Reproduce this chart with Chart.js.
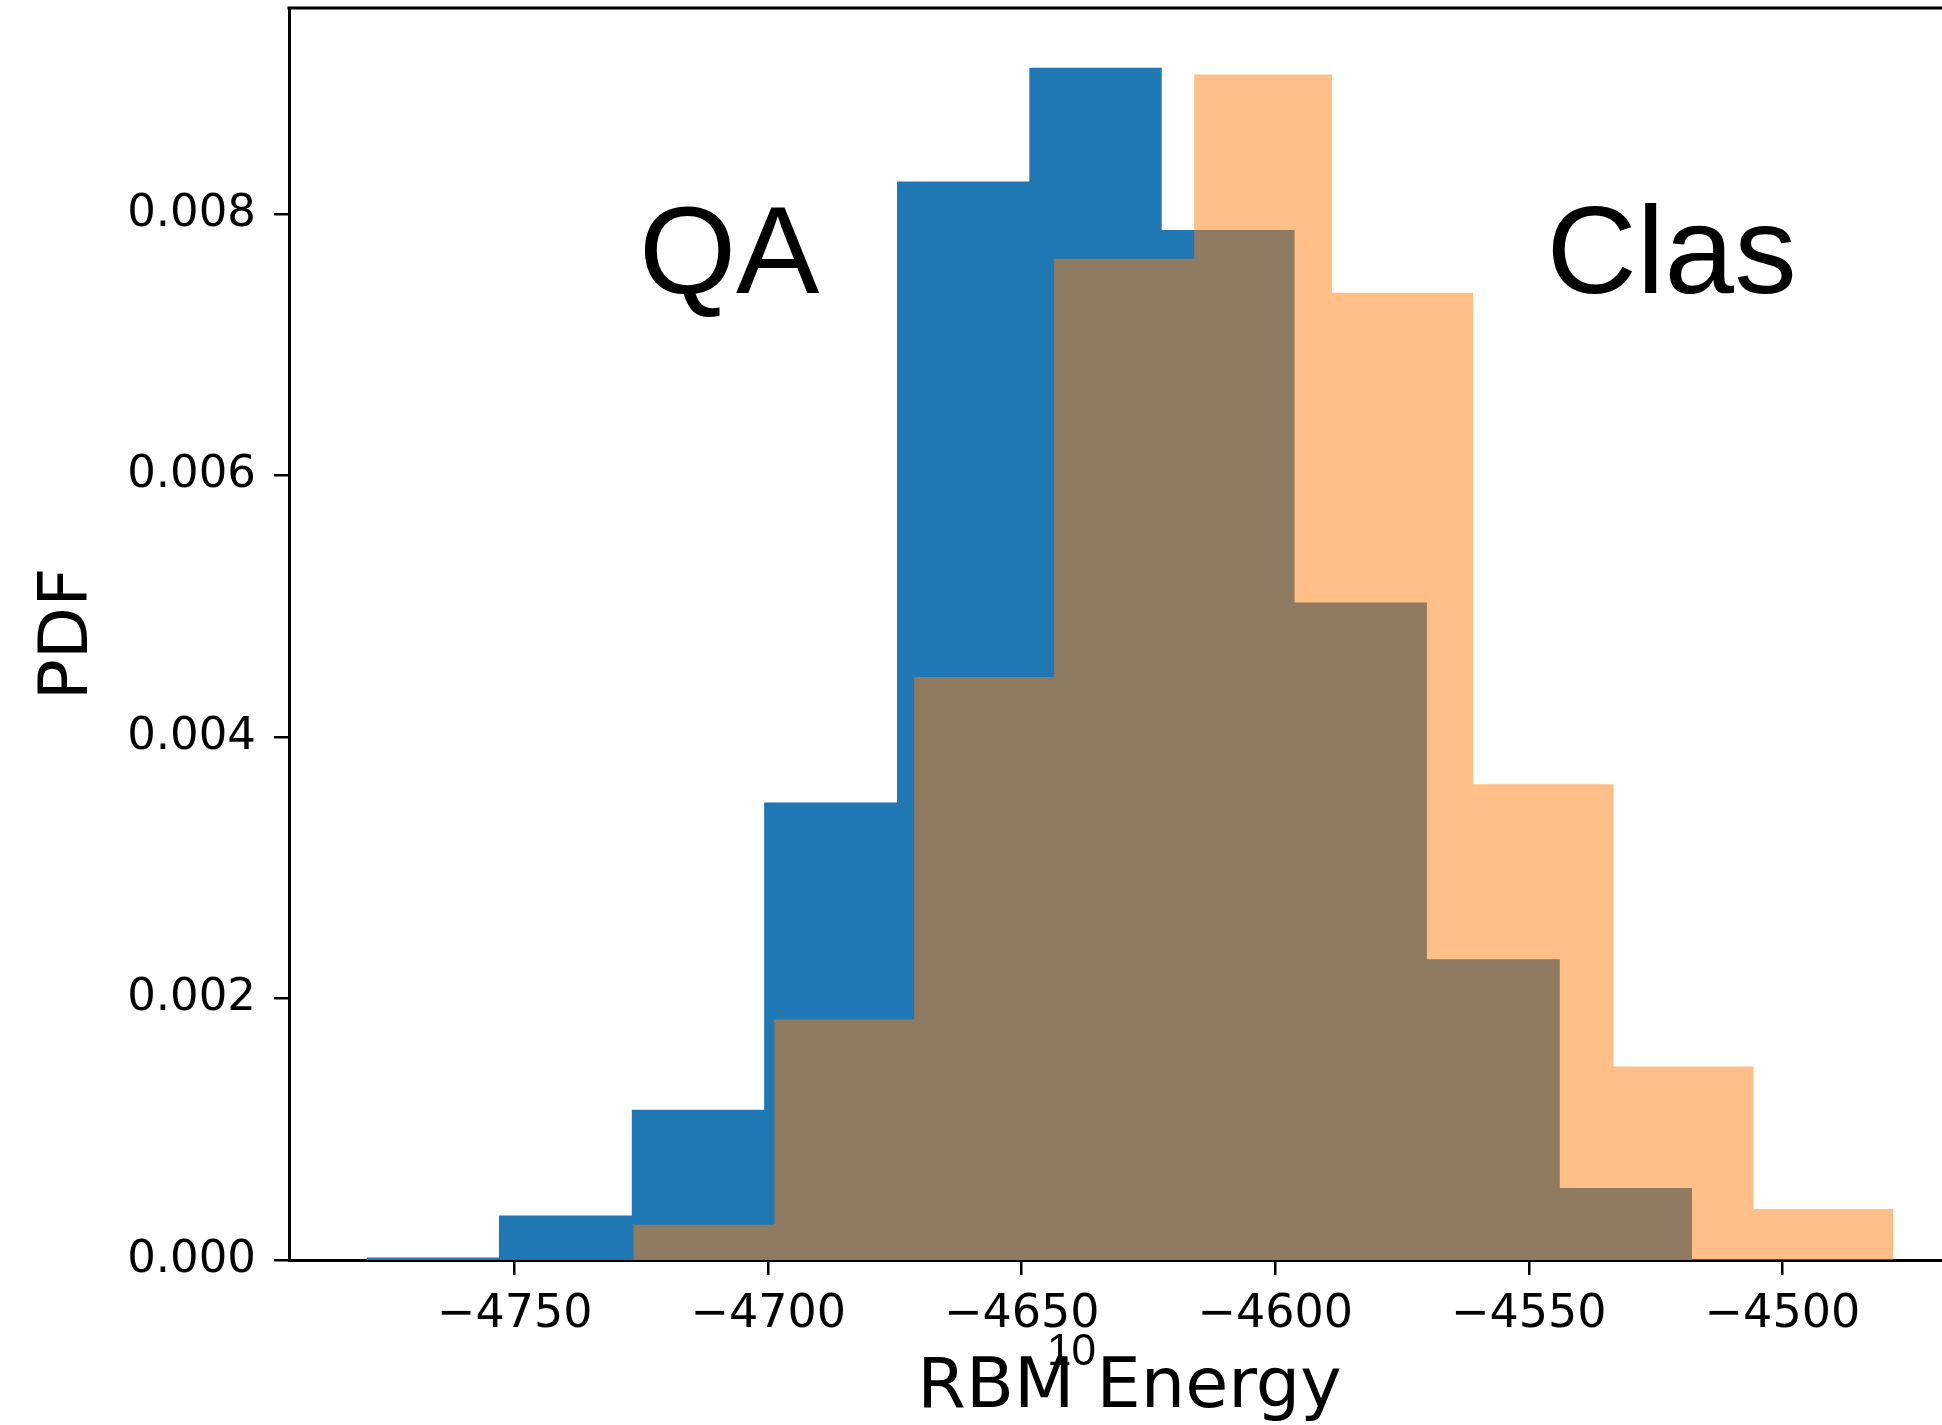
<!DOCTYPE html>
<html lang="en">
<head>
    <meta charset="UTF-8">
    <title>RBM Energy PDF</title>
    <style>
        html, body {
            margin: 0;
            padding: 0;
            background: #fff;
            overflow: hidden;
        }
        #chart-container {
            width: 1975px;
            height: 1425px;
        }
    </style>
    <script src="https://cdn.jsdelivr.net/npm/chart.js"></script>
</head>
<body>
    <div id="chart-container">
        <canvas id="histChart"></canvas>
    </div>

    <script>
        // bin edges and densities
        const qaEdges = [-4779.2, -4753.1, -4726.9, -4700.8, -4674.6, -4648.5, -4622.4, -4596.2, -4570.1, -4543.9, -4517.8];
        const qaPdf = [0.00002, 0.00034, 0.00115, 0.0035, 0.00825, 0.00912, 0.00788, 0.00503, 0.0023, 0.00055];

        const clasEdges = [-4726.6, -4698.8, -4671.2, -4643.6, -4616.0, -4588.8, -4561.0, -4533.3, -4505.7, -4478.1];
        const clasPdf = [0.00027, 0.00184, 0.00446, 0.00766, 0.00907, 0.0074, 0.00364, 0.00148, 0.00039];

        const xTickValues = [-4750, -4700, -4650, -4600, -4550, -4500];
        const yTickValues = [0, 0.002, 0.004, 0.006, 0.008];

        const textLabels = [
            { text: 'QA', x: -4725.5, y: 0.0074 },
            { text: 'Clas', x: -4546.5, y: 0.0074 }
        ];

        // one point per left edge, last edge drops back to zero
        function stepPoints(edges, values) {
            return edges.map((e, i) => ({ x: e, y: i < values.length ? values[i] : 0 }));
        }

        const extras = {
            id: 'extras',
            afterDraw(chart) {
                const ctx = chart.ctx;
                const area = chart.chartArea;
                const xs = chart.scales.x;
                const ys = chart.scales.y;
                ctx.save();

                // top spine
                ctx.strokeStyle = '#000';
                ctx.lineWidth = 3;
                ctx.beginPath();
                ctx.moveTo(area.left - 1.5, area.top);
                ctx.lineTo(area.right, area.top);
                ctx.stroke();

                ctx.fillStyle = '#000';
                ctx.font = '125px "Liberation Sans"';
                ctx.textAlign = 'left';
                ctx.textBaseline = 'alphabetic';
                textLabels.forEach(l => {
                    ctx.fillText(l.text, xs.getPixelForValue(l.x), ys.getPixelForValue(l.y));
                });

                // stray page number sitting on the axis title
                ctx.font = '44px "Liberation Sans"';
                ctx.textAlign = 'center';
                ctx.fillText('10', xs.getPixelForValue(-4640.2), area.bottom + 105);
                ctx.restore();
            }
        };

        const ctx = document.getElementById('histChart').getContext('2d');
        new Chart(ctx, {
            type: 'line',
            data: {
                datasets: [
                    {
                        label: 'QA',
                        data: stepPoints(qaEdges, qaPdf),
                        stepped: 'before',
                        fill: 'origin',
                        backgroundColor: '#1f77b4',
                        borderColor: 'transparent',
                        borderWidth: 0,
                        pointRadius: 0,
                        order: 1
                    },
                    {
                        label: 'Clas',
                        data: stepPoints(clasEdges, clasPdf),
                        stepped: 'before',
                        fill: 'origin',
                        backgroundColor: 'rgba(255, 127, 14, 0.5)',
                        borderColor: 'transparent',
                        borderWidth: 0,
                        pointRadius: 0,
                        order: 0
                    }
                ]
            },
            options: {
                responsive: true,
                maintainAspectRatio: false,
                animation: false,
                layout: {
                    padding: { top: 8, left: 0, right: 5, bottom: 0 }
                },
                plugins: {
                    legend: { display: false },
                    tooltip: { enabled: false }
                },
                scales: {
                    x: {
                        type: 'linear',
                        min: -4794.5,
                        max: -4463,
                        afterBuildTicks(scale) {
                            scale.ticks = xTickValues.map(v => ({ value: v }));
                        },
                        afterFit(scale) {
                            scale.height = 165;
                            scale.paddingLeft = 0;
                            scale.paddingRight = 0;
                        },
                        ticks: {
                            color: '#000',
                            padding: 17,
                            font: { family: 'DejaVu Sans', size: 46, lineHeight: 1 },
                            callback: v => (v < 0 ? '\u2212' : '') + Math.abs(v)
                        },
                        grid: {
                            display: true,
                            drawOnChartArea: false,
                            drawTicks: true,
                            tickLength: 15,
                            color: '#000',
                            lineWidth: 2.5
                        },
                        border: { display: true, color: '#000', width: 3 },
                        title: {
                            display: true,
                            text: 'RBM Energy',
                            color: '#000',
                            font: { family: 'DejaVu Sans', size: 70, lineHeight: 1 },
                            padding: { top: 0, bottom: 1.5 }
                        }
                    },
                    y: {
                        min: 0,
                        max: 0.009578,
                        afterBuildTicks(scale) {
                            scale.ticks = yTickValues.map(v => ({ value: v }));
                        },
                        afterFit(scale) {
                            scale.width = 289;
                            scale.paddingTop = 0;
                            scale.paddingBottom = 0;
                        },
                        ticks: {
                            color: '#000',
                            padding: 18,
                            font: { family: 'DejaVu Sans', size: 45, lineHeight: 1 },
                            callback: v => v.toFixed(3)
                        },
                        grid: {
                            display: true,
                            drawOnChartArea: false,
                            drawTicks: true,
                            tickLength: 15,
                            color: '#000',
                            lineWidth: 2.5
                        },
                        border: { display: true, color: '#000', width: 3 },
                        title: {
                            display: true,
                            text: 'PDF',
                            color: '#000',
                            font: { family: 'DejaVu Sans', size: 68, lineHeight: 1 },
                            padding: { top: 35, bottom: 0 }
                        }
                    }
                }
            },
            plugins: [extras]
        });
    </script>
</body>
</html>
